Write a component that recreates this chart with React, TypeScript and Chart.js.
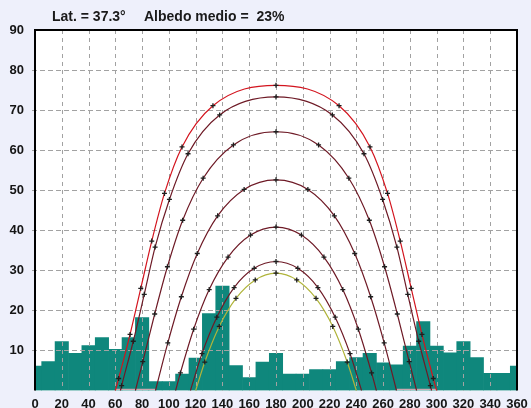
import React, { useEffect, useRef } from "react";
import { Chart, registerables } from "chart.js";
Chart.register(...registerables);

// Horizon profile: azimuth bin centres (deg) and obstruction height (deg)
const BIN_AZIMUTH = [0, 10, 20, 30, 40, 50, 60, 70, 80, 90, 100, 110, 120, 130, 140, 150, 160, 170, 180, 190, 200, 210, 220, 230, 240, 250, 260, 270, 280, 290, 300, 310, 320, 330, 340, 350, 360];
const HORIZON_HEIGHT = [6.1, 7.2, 12.2, 9.3, 11.2, 13.2, 10.3, 13.2, 18.2, 2.2, 2.2, 4.1, 8.1, 19.2, 26.1, 6.2, 3.2, 7.1, 9.3, 4.1, 4.1, 5.2, 5.2, 7.2, 8.2, 9.3, 6.9, 6.4, 11.1, 17.2, 11.1, 9.4, 12.2, 8.2, 4.3, 4.3, 6.1];

// Sun paths (hourly points): azimuth and altitude
const PATH1_AZ = [60.0, 62.5, 71.0, 79.0, 87.2, 96.7, 109.8, 132.9, 180, 227.1, 250.2, 263.3, 272.8, 281.0, 289.0, 297.5, 300.0];
const PATH1_ALT = [0, 3.0, 14.0, 25.5, 37.3, 49.2, 60.8, 71.1, 76.2, 71.1, 60.8, 49.2, 37.3, 25.5, 14.0, 3.0, 0];
const PATH2_AZ = [63.8, 64.7, 73.4, 81.6, 89.7, 100.4, 114.3, 137.9, 180, 222.1, 245.7, 259.6, 270.3, 278.4, 286.6, 295.3, 296.2];
const PATH2_ALT = [0, 1.2, 12.3, 24.0, 35.8, 47.7, 59.1, 68.8, 73.3, 68.8, 59.1, 47.7, 35.8, 24.0, 12.3, 1.2, 0];
const PATH3_AZ = [75.0, 80.5, 89.4, 98.9, 110.3, 125.6, 148.2, 180, 211.8, 234.4, 249.7, 261.1, 270.6, 279.5, 285.0];
const PATH3_ALT = [0, 7.2, 19.1, 30.9, 42.5, 53.0, 61.3, 64.6, 61.3, 53.0, 42.5, 30.9, 19.1, 7.2, 0];
const PATH4_AZ = [90, 99.2, 109.3, 121.2, 136.4, 156.2, 180, 203.8, 223.6, 238.8, 250.7, 260.8, 270];
const PATH4_ALT = [0, 11.9, 23.4, 34.2, 43.6, 50.2, 52.6, 50.2, 43.6, 34.2, 23.4, 11.9, 0];
const PATH5_AZ = [105.0, 108.6, 118.5, 130.1, 144.2, 161.0, 180, 199.0, 215.8, 229.9, 241.5, 251.4, 255.0];
const PATH5_ALT = [0, 4.4, 15.3, 25.2, 33.3, 38.8, 40.8, 38.8, 33.3, 25.2, 15.3, 4.4, 0];
const PATH6_AZ = [116.1, 124.7, 135.8, 148.7, 163.7, 180, 196.3, 211.3, 224.2, 235.3, 243.9];
const PATH6_ALT = [0, 9.2, 18.3, 25.7, 30.5, 32.2, 30.5, 25.7, 18.3, 9.2, 0];
const PATH7_AZ = [120.0, 126.8, 137.6, 150.1, 164.5, 180, 195.5, 209.9, 222.4, 233.2, 240.0];
const PATH7_ALT = [0, 7.1, 16.0, 23.0, 27.6, 29.3, 27.6, 23.0, 16.0, 7.1, 0];

// Sunrise / sunset traces along the horizon
const RISE_AZ = [60.0, 63.8, 75.0, 90.0];
const SET_AZ = [270.0, 285.0, 296.2, 300.0];
const HORIZON_LINE_ALT = [0.3, 0.3, 0.3, 0.3];

const X_GRID = [20, 40, 60, 80, 100, 120, 140, 160, 180, 200, 220, 240, 260, 280, 300, 320, 340];
const Y_GRID = [10, 20, 30, 40, 50, 60, 70, 80];

const TITLE_LAT = "Lat. = 37.3°";
const TITLE_ALB = "Albedo medio =  23%";

const PATHS = [
  { az: PATH1_AZ, alt: PATH1_ALT, color: "#d3141e" },
  { az: PATH2_AZ, alt: PATH2_ALT, color: "#6e1a26" },
  { az: PATH3_AZ, alt: PATH3_ALT, color: "#6e1a26" },
  { az: PATH4_AZ, alt: PATH4_ALT, color: "#6e1a26" },
  { az: PATH5_AZ, alt: PATH5_ALT, color: "#6e1a26" },
  { az: PATH6_AZ, alt: PATH6_ALT, color: "#6e1a26" },
  { az: PATH7_AZ, alt: PATH7_ALT, color: "#b0b43a" },
];

const FONT = '"Liberation Sans", Arial, sans-serif';

export default function App() {
  const ref = useRef<HTMLCanvasElement | null>(null);

  useEffect(() => {
    const canvas = ref.current;
    if (!canvas) return;

    const bg = {
      id: "bg",
      beforeDraw(chart: any) {
        const { ctx, chartArea: a, width, height } = chart;
        ctx.save();
        ctx.fillStyle = "#eef0fb";
        ctx.fillRect(0, 0, width, height);
        ctx.fillStyle = "#ffffff";
        ctx.fillRect(a.left, a.top, a.right - a.left, a.bottom - a.top);
        ctx.restore();
      },
    };

    const gridOver = {
      id: "gridOver",
      afterDatasetDraw(chart: any, args: any) {
        if (args.index !== 0) return;
        const { ctx, chartArea: a, scales } = chart;
        ctx.save();
        ctx.strokeStyle = "#a2a2a2";
        ctx.lineWidth = 1;
        ctx.setLineDash([4, 4]);
        X_GRID.forEach((v) => {
          const x = Math.round(scales.x.getPixelForValue(v)) + 0.5;
          ctx.beginPath();
          ctx.moveTo(x, a.top);
          ctx.lineTo(x, a.bottom);
          ctx.stroke();
        });
        ctx.setLineDash([5, 3]);
        Y_GRID.forEach((v) => {
          const y = Math.round(scales.y.getPixelForValue(v)) + 0.5;
          ctx.beginPath();
          ctx.moveTo(a.left - 3, y);
          ctx.lineTo(a.right, y);
          ctx.stroke();
        });
        ctx.restore();
      },
    };

    const frame = {
      id: "frame",
      afterDraw(chart: any) {
        const { ctx, chartArea: a } = chart;
        ctx.save();
        ctx.strokeStyle = "#000";
        ctx.lineWidth = 2;
        ctx.setLineDash([]);
        ctx.beginPath();
        ctx.moveTo(a.left, a.bottom);
        ctx.lineTo(a.left, a.top);
        ctx.lineTo(a.right, a.top);
        ctx.lineTo(a.right, a.bottom);
        ctx.stroke();
        ctx.fillStyle = "#1a1a1a";
        ctx.font = `bold 14px ${FONT}`;
        ctx.textBaseline = "alphabetic";
        ctx.textAlign = "left";
        ctx.fillText(TITLE_LAT, 52, 21);
        ctx.fillText(TITLE_ALB, 144, 21);
        ctx.restore();
      },
    };

    const pathSets = PATHS.map((p) => ({
      type: "line" as const,
      data: p.az.map((x, i) => ({ x, y: p.alt[i] })),
      borderColor: p.color,
      borderWidth: 1.2,
      cubicInterpolationMode: "monotone" as const,
      pointStyle: "cross" as const,
      pointRadius: p.alt.map((v) => (v === 0 ? 0 : 2.5)),
      pointBorderColor: "#1e1e1e",
      pointBackgroundColor: "#1e1e1e",
      pointBorderWidth: 1.3,
      order: 0,
      clip: 2,
    }));

    const traceSets = [RISE_AZ, SET_AZ].map((az) => ({
      type: "line" as const,
      data: az.map((x, i) => ({ x, y: HORIZON_LINE_ALT[i] })),
      borderColor: "#c9a9b0",
      borderWidth: 1.2,
      pointRadius: 0,
      order: 1,
      clip: 2,
    }));

    const chart = new Chart(canvas, {
      type: "bar",
      data: {
        datasets: [
          {
            type: "bar",
            data: BIN_AZIMUTH.map((x, i) => ({ x, y: HORIZON_HEIGHT[i] })),
            backgroundColor: "#0f877c",
            borderWidth: 0,
            barPercentage: 1,
            categoryPercentage: 1,
            order: 10,
            clip: 0,
          } as any,
          ...traceSets,
          ...pathSets,
        ],
      },
      options: {
        responsive: false,
        maintainAspectRatio: false,
        animation: false,
        layout: { padding: { top: 30, right: 14, left: 0, bottom: 0 } },
        plugins: {
          legend: { display: false },
          tooltip: { enabled: false },
          title: { display: false },
        },
        scales: {
          x: {
            type: "linear",
            min: 0,
            max: 360,
            offset: false,
            grid: { display: false },
            border: { display: false },
            ticks: {
              stepSize: 20,
              autoSkip: false,
              maxRotation: 0,
              padding: -2,
              color: "#151515",
              font: { family: FONT, size: 13, weight: "bold" },
            },
            afterFit(s: any) {
              s.height = 17.5;
            },
          },
          y: {
            type: "linear",
            min: 0,
            max: 90,
            grid: { display: false },
            border: { display: false },
            ticks: {
              stepSize: 10,
              padding: 3,
              color: "#151515",
              font: { family: FONT, size: 13, weight: "bold" },
              callback: (v: any) => (v === 0 ? "" : String(v)),
            },
            afterFit(s: any) {
              s.width = 35;
            },
          },
        },
      } as any,
      plugins: [bg, gridOver, frame],
    });

    return () => chart.destroy();
  }, []);

  return (
    <div style={{ position: "fixed", left: 0, top: 0, width: 531, height: 408, background: "#eef0fb" }}>
      <canvas ref={ref} width={531} height={408} style={{ display: "block" }} />
    </div>
  );
}
